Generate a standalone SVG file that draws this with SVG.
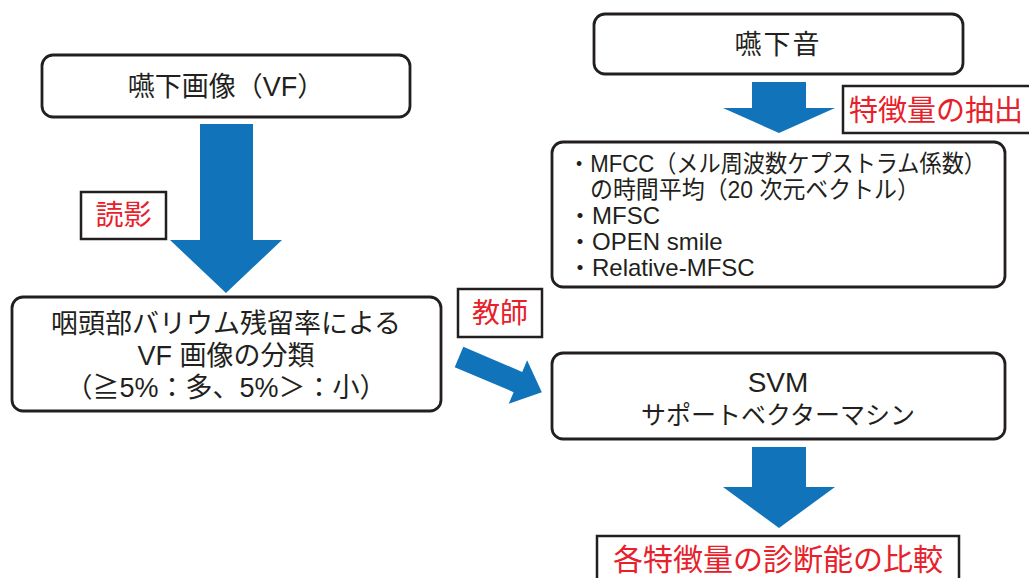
<svg xmlns="http://www.w3.org/2000/svg" width="1029" height="578" viewBox="0 0 1029 578">
<style>
.node{fill:#fff;stroke:#231f20;stroke-width:2.8}
.lbl{fill:#fff;stroke:#231f20;stroke-width:2.5}
.t{font-family:"Liberation Sans","Noto Sans CJK JP",sans-serif;fill:#231f20}
.r{font-family:"Noto Sans CJK JP",sans-serif;fill:#e8202a}
.c{text-anchor:middle}
.arr{fill:#1174ba}
</style>
<rect width="1029" height="578" fill="#fff"/>
<g id="connectors">
<polygon class="arr" points="200,124 253,124 253,240 282,240 226,293 170,240 200,240"/>
<polygon class="arr" points="752,82 806,82 806,108 835,108 779,133 723,108 752,108"/>
<polygon class="arr" points="752,447 806,447 806,487 835,487 779,528 723,487 752,487"/>
<polygon class="arr" transform="translate(459,357) rotate(23)" points="0,-11 64,-11 64,-23.5 90,0 64,23.5 64,11 0,11"/>
</g>
<g id="node-vf">
<rect class="node" x="42" y="55" width="368" height="62" rx="11"/>
<text class="t c" x="226" y="96" font-size="27">嚥下画像（VF）</text>
</g>
<g id="label-dokuei">
<rect class="lbl" x="81" y="192" width="85" height="47"/>
<text class="r c" x="123.5" y="225" font-size="28">読影</text>
</g>
<g id="node-classify">
<rect class="node" x="12" y="297" width="429" height="114" rx="11"/>
<text class="t c" font-size="27"><tspan x="226" y="333">咽頭部バリウム残留率による</tspan><tspan x="226" y="365">VF 画像の分類</tspan><tspan x="226" y="397">（≧5%：多、5%＞：小）</tspan></text>
</g>
<g id="label-kyoshi">
<rect class="lbl" x="458" y="289" width="84" height="48"/>
<text class="r c" x="500" y="323" font-size="28">教師</text>
</g>
<g id="node-sound">
<rect class="node" x="594" y="14" width="369" height="60" rx="11"/>
<text class="t c" x="778" y="54" font-size="27" letter-spacing="2">嚥下音</text>
</g>
<g id="label-extract">
<rect class="lbl" x="843" y="86" width="195" height="47"/>
<text class="r" x="849" y="121" font-size="29">特徴量の抽出</text>
</g>
<g id="node-features">
<rect class="node" x="552" y="142" width="453" height="145" rx="11"/>
<text class="t" font-size="24"><tspan x="568" y="172" textLength="418" lengthAdjust="spacingAndGlyphs">・MFCC（メル周波数ケプストラム係数）</tspan><tspan x="590" y="198" textLength="330" lengthAdjust="spacingAndGlyphs">の時間平均（20 次元ベクトル）</tspan><tspan x="568" y="224">・MFSC</tspan><tspan x="568" y="250">・OPEN smile</tspan><tspan x="568" y="276">・Relative-MFSC</tspan></text>
</g>
<g id="node-svm">
<rect class="node" x="552" y="353" width="453" height="86" rx="11"/>
<text class="t c" x="778" y="392" font-size="28">SVM</text>
<text class="t c" x="778" y="424" font-size="25">サポートベクターマシン</text>
</g>
<g id="label-compare">
<rect class="lbl" x="597" y="536" width="362" height="50"/>
<text class="r c" x="778" y="570" font-size="30">各特徴量の診断能の比較</text>
</g>
</svg>
